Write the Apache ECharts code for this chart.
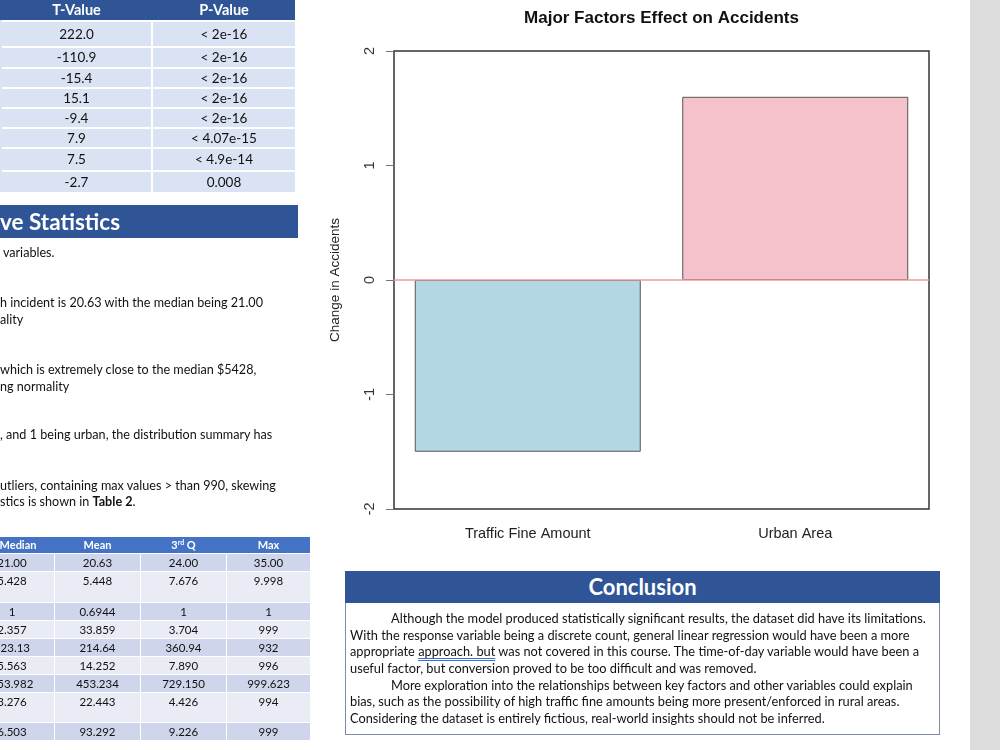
<!DOCTYPE html>
<html>
<head>
<meta charset="utf-8">
<script src="https://cdn.jsdelivr.net/npm/echarts@6/dist/echarts.min.js"></script>
<style>
  html, body { margin: 0; padding: 0; background: #ffffff; }
  #page { position: relative; width: 1000px; height: 750px; overflow: hidden; background: #fff; }
  #chart { position: absolute; left: 0; top: 0; width: 1000px; height: 750px; }
  .abs { position: absolute; white-space: nowrap; }
  .cell { position: absolute; box-sizing: border-box; text-align: center; overflow: visible; font-family: Lato, "Noto Sans", sans-serif; color: #111; }
  .txt { position: absolute; white-space: pre; font-family: Lato, "Noto Sans", sans-serif; font-size: 12.6px; line-height: 16px; color: #111; }
  .band { position: absolute; background: #2f5597; color: #fff; font-family: Lato, "Noto Sans", sans-serif; font-weight: bold; }
  sup.rd { font-size: 7px; line-height: 0; vertical-align: 4px; }
  .spell { text-decoration-line: underline; text-decoration-style: double; text-decoration-color: #3b6fd0; text-underline-offset: 2px; }
</style>
</head>
<body>
<div id="page">
  <div id="chart"></div>
  <div id="overlay"></div>
</div>
<script>
// ---------- chart data ----------
var factors = ['Traffic Fine Amount', 'Urban Area'];
var effects = [-1.5, 1.6];
var barColors = ['#b4d7e5', '#f5c2cc'];
var yTicks = [-2, -1, 0, 1, 2];
var chartTitle = 'Major Factors Effect on Accidents';
var yAxisName = 'Change in Accidents';

// ---------- table 1 (regression results) ----------
var t1Headers = ['T-Value', 'P-Value'];
var tValues = ['222.0', '-110.9', '-15.4', '15.1', '-9.4', '7.9', '7.5', '-2.7'];
var pValues = ['< 2e-16', '< 2e-16', '< 2e-16', '< 2e-16', '< 2e-16', '< 4.07e-15', '< 4.9e-14', '0.008'];

// ---------- table 2 (descriptive statistics) ----------
var t2Headers = ['Median', 'Mean', '3<sup class="rd">rd</sup> Q', 'Max'];
var medians = ['21.00', '5.428', '1', '2.357', '223.13', '5.563', '453.982', '3.276', '6.503'];
var means = ['20.63', '5.448', '0.6944', '33.859', '214.64', '14.252', '453.234', '22.443', '93.292'];
var thirdQs = ['24.00', '7.676', '1', '3.704', '360.94', '7.890', '729.150', '4.426', '9.226'];
var maxes = ['35.00', '9.998', '1', '999', '932', '996', '999.623', '994', '999'];

// ---------- text ----------
var statsTitle = 've Statistics';
var statsLines = [
  ' variables.',
  'h incident is 20.63 with the median being 21.00',
  'ality',
  'which is extremely close to the median $5428,',
  'ng normality',
  ', and 1 being urban, the distribution summary has',
  'utliers, containing max values &gt; than 990, skewing',
  'stics is shown in <b>Table 2</b>.'
];
var conclusionTitle = 'Conclusion';
var conclusionLines = [
  'Although the model produced statistically significant results, the dataset did have its limitations.',
  'With the response variable being a discrete count, general linear regression would have been a more',
  'appropriate <span class="spell">approach. but</span> was not covered in this course. The time-of-day variable would have been a',
  'useful factor, but conversion proved to be too difficult and was removed.',
  'More exploration into the relationships between key factors and other variables could explain',
  'bias, such as the possibility of high traffic fine amounts being more present/enforced in rural areas.',
  'Considering the dataset is entirely fictious, real-world insights should not be inferred.'
];

// ---------- build overlay (poster parts) ----------
var ov = document.getElementById('overlay');
function add(html) { ov.insertAdjacentHTML('beforeend', html); }

// right gray strip
add('<div class="abs" style="left:970px;top:0;width:30px;height:750px;background:#dcdcdc;"></div>');

// Table 1
var t1Cols = [[2, 151], [153, 295]];
var t1Rows = [[22, 46], [48, 67], [69, 87], [89, 107], [109, 127], [129, 147], [149, 170], [172, 192]];
add('<div class="abs" style="left:0;top:0;width:295px;height:20px;background:#2f5597;"></div>');
t1Headers.forEach(function (h, c) {
  add('<div class="cell" style="left:' + t1Cols[c][0] + 'px;top:0;width:' + (t1Cols[c][1] - t1Cols[c][0]) + 'px;height:20px;line-height:20px;color:#fff;font-weight:bold;font-size:14.5px;">' + h + '</div>');
});
var t1Data = [tValues, pValues];
t1Rows.forEach(function (r, i) {
  t1Data.forEach(function (col, c) {
    add('<div class="cell" style="left:' + t1Cols[c][0] + 'px;top:' + r[0] + 'px;width:' + (t1Cols[c][1] - t1Cols[c][0]) + 'px;height:' + (r[1] - r[0]) + 'px;line-height:' + (r[1] - r[0]) + 'px;background:#dae3f3;font-size:13.5px;">' + col[i] + '</div>');
  });
});
add('<div class="abs" style="left:0;top:20px;width:2px;height:172px;background:#dae3f3;"></div>');

// Descriptive statistics header band + text
add('<div class="band" style="left:0;top:205px;width:298px;height:33px;font-size:22.5px;line-height:33px;">' + statsTitle + '</div>');
var statsCenters = [253, 303, 320, 370, 387, 435, 486, 502];
statsLines.forEach(function (s, i) {
  add('<div class="txt" style="left:0;top:' + (statsCenters[i] - 8) + 'px;">' + s + '</div>');
});

// Table 2
var t2Cols = [[-30, 54], [55, 140], [141, 226], [227, 310]];
var t2Rows = [[554, 571], [572, 602], [603, 620], [621, 638], [639, 656], [657, 674], [675, 692], [693, 722], [723, 740]];
var t2Data = [medians, means, thirdQs, maxes];
add('<div class="abs" style="left:0;top:537px;width:310px;height:16px;background:#4472c4;"></div>');
t2Headers.forEach(function (h, c) {
  var shift = c === 0 ? 6 : 0;
  add('<div class="cell" style="left:' + (t2Cols[c][0] + shift) + 'px;top:537px;width:' + (t2Cols[c][1] - t2Cols[c][0]) + 'px;height:16px;line-height:16px;color:#fff;font-weight:bold;font-size:11px;">' + h + '</div>');
});
t2Rows.forEach(function (r, i) {
  var bg = (i % 2 === 0) ? '#cfd5ea' : '#e9ebf5';
  t2Data.forEach(function (col, c) {
    add('<div class="cell" style="left:' + t2Cols[c][0] + 'px;top:' + r[0] + 'px;width:' + (t2Cols[c][1] - t2Cols[c][0]) + 'px;height:' + (r[1] - r[0]) + 'px;line-height:18px;background:' + bg + ';font-size:11.5px;">' + col[i] + '</div>');
  });
});

// Conclusion
add('<div class="band" style="left:345px;top:571px;width:595px;height:32px;font-size:22px;line-height:32px;text-align:center;">' + conclusionTitle + '</div>');
add('<div class="abs" style="left:345px;top:603px;width:595px;height:132px;box-sizing:border-box;border:1px solid #7d8db0;border-top:none;"></div>');
var conclCenters = [618, 635, 651, 668, 685, 701, 718];
var conclIndent = [true, false, false, false, true, false, false];
conclusionLines.forEach(function (s, i) {
  add('<div class="txt" style="font-size:12.8px;left:' + (conclIndent[i] ? 391 : 350) + 'px;top:' + (conclCenters[i] - 8) + 'px;">' + s + '</div>');
});

// ---------- chart ----------
var chart = echarts.init(document.getElementById('chart'), null, { renderer: 'canvas' });
chart.setOption({
  backgroundColor: 'transparent',
  animation: false,
  graphic: [{
    type: 'text',
    x: 661.5, y: 18,
    style: {
      text: chartTitle,
      fontFamily: 'Liberation Sans', fontWeight: 'bold', fontSize: 17, fill: '#111',
      align: 'center', verticalAlign: 'middle'
    }
  }],
  grid: {
    left: 394, right: 71, top: 51, bottom: 241,
    show: true, borderColor: '#333', borderWidth: 1.5, backgroundColor: 'transparent'
  },
  xAxis: {
    type: 'category',
    data: factors,
    axisLine: { show: false },
    axisTick: { show: false },
    axisLabel: { fontFamily: 'Liberation Sans', fontSize: 14.5, color: '#222', margin: 17 }
  },
  yAxis: {
    type: 'value',
    min: yTicks[0], max: yTicks[yTicks.length - 1], interval: 1,
    name: yAxisName,
    nameLocation: 'middle',
    nameGap: 52,
    nameTextStyle: { fontFamily: 'Liberation Sans', fontSize: 13.5, color: '#222' },
    axisLine: { show: false },
    axisTick: { show: true, length: 8, lineStyle: { color: '#777', width: 1 } },
    axisLabel: { rotate: 90, fontFamily: 'Liberation Sans', fontSize: 14.5, color: '#333', margin: 17 },
    splitLine: { show: false }
  },
  series: [{
    type: 'bar',
    barWidth: 226,
    data: effects.map(function (v, i) {
      return { value: v, itemStyle: { color: barColors[i], borderColor: '#555', borderWidth: 1 } };
    }),
    markLine: {
      silent: true,
      symbol: ['none', 'none'],
      label: { show: false },
      lineStyle: { color: '#ee9c9c', type: 'solid', width: 1.5 },
      data: [{ yAxis: 0 }]
    }
  }]
});
</script>
</body>
</html>
